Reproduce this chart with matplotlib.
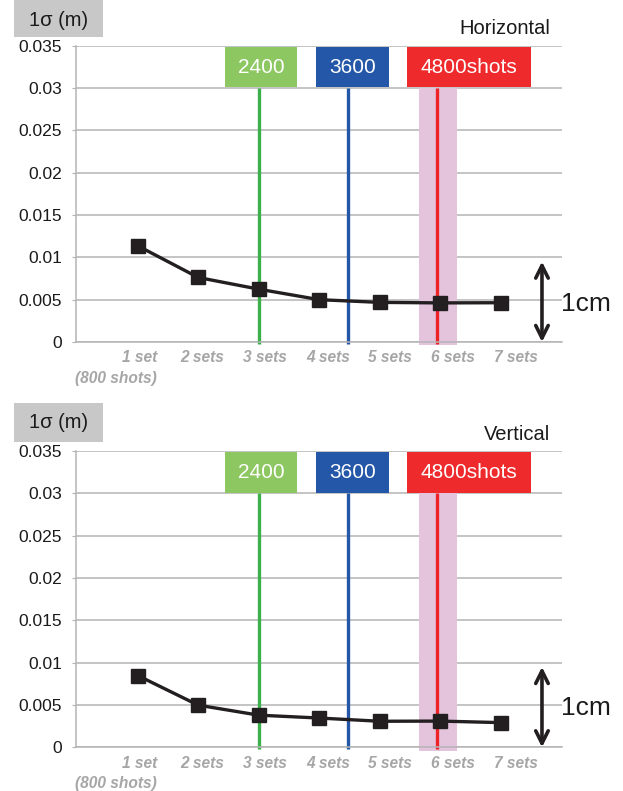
#!/usr/bin/env python
#
#  sigma vs number of sets, horizontal and vertical panels
#

import numpy as np
import matplotlib.pyplot as plt
from matplotlib.patches import Rectangle

plt.rcParams['font.family'] = ['Liberation Sans', 'DejaVu Sans']

#   data

sets       = ['1 set', '2 sets', '3 sets', '4 sets', '5 sets', '6 sets', '7 sets']
horizontal = [0.01136, 0.00762, 0.00624, 0.00500, 0.00468, 0.00462, 0.00464]
vertical   = [0.00848, 0.00498, 0.00380, 0.00346, 0.00308, 0.00310, 0.00292]

# shot markers: label, x position (in set units), box extent
markers = [('2400',      2.00, 1.44, 2.64, '#8cc761', '#3bb04b'),
           ('3600',      3.47, 2.94, 4.15, '#2457a7', '#2457a7'),
           ('4800shots', 4.95, 4.45, 6.50, '#ef2a2c', '#ee2328')]
band = (4.65, 5.28)

yticks = [0, 0.005, 0.01, 0.015, 0.02, 0.025, 0.03, 0.035]

grid_col  = '#b4b4b4'
tick_col  = '#a6a6a6'
line_col  = '#231f20'


def draw_panel(ax, values, title, onecm_y):
    x = np.arange(len(sets))
    ax.set_xlim(-1.02, 7.01)
    ax.set_ylim(0, 0.035)

    # grid + axes look
    ax.set_yticks(yticks)
    ax.set_yticklabels(['0'] + ['%g' % v for v in yticks[1:]])
    ax.yaxis.grid(True, color=grid_col, lw=1.1)
    ax.set_axisbelow(True)
    for s in ['top', 'right']:
        ax.spines[s].set_visible(False)
    ax.spines['left'].set_color(grid_col)
    ax.spines['bottom'].set_color(grid_col)
    ax.spines['left'].set_linewidth(1.1)
    ax.spines['bottom'].set_linewidth(1.1)
    ax.tick_params(axis='y', length=3, color=grid_col, pad=7, labelsize=12.5,
                   labelcolor='#1a1a1a')
    # category labels sit a little wider apart than the points in the original
    ax.set_xticks(0.033 + 1.0355 * x)
    ax.set_xticklabels(sets, fontsize=11.2, fontweight='bold', style='italic',
                       color=tick_col)
    ax.tick_params(axis='x', length=0, pad=6)
    ax.annotate('(800 shots)', xy=(0.31, 0), xycoords=('data', 'axes fraction'),
                xytext=(0, -26), textcoords='offset points', ha='right', va='center',
                fontsize=11.2, fontweight='bold', style='italic', color=tick_col,
                annotation_clip=False)

    # highlight band and shot lines
    ax.add_patch(Rectangle((band[0], -0.0004), band[1] - band[0], 0.0304,
                           facecolor='#e4c3dd', edgecolor='none', clip_on=False, zorder=1))
    for lab, xv, x0, x1, boxc, linec in markers:
        ax.plot([xv, xv], [-0.0002, 0.03], color=linec, lw=2.4, clip_on=False,
                solid_capstyle='butt', zorder=2)
        ax.add_patch(Rectangle((x0, 0.0301), x1 - x0, 0.00475, facecolor=boxc,
                               edgecolor='none', clip_on=False, zorder=3))
        ax.text((x0 + x1) / 2, 0.03245, lab, color='white', fontsize=15,
                ha='center', va='center', zorder=4)

    # the series
    ax.plot(x, values, '-s', color=line_col, lw=2.4, markersize=9.5, zorder=5,
            clip_on=False)

    # panel title
    ax.text(0.975, 1.057, title, transform=ax.transAxes, ha='right', va='center',
            fontsize=14.5, color='#1a1a1a')

    # 1cm arrow
    ax.annotate('', xy=(6.68, 0.0095), xytext=(6.68, 0.0),
                arrowprops=dict(arrowstyle='<->, head_length=0.9, head_width=0.45',
                                color=line_col, lw=2.6, shrinkA=0, shrinkB=0),
                annotation_clip=False)
    ax.text(7.0, onecm_y, '1cm', ha='left', va='center', fontsize=19,
            color='#1a1a1a', clip_on=False)


fig = plt.figure(figsize=(6.23, 7.91), dpi=100)

ax1 = fig.add_axes([0.122, 0.5676, 0.780, 0.3748])
ax2 = fig.add_axes([0.122, 0.0552, 0.780, 0.3746])

draw_panel(ax1, horizontal, 'Horizontal', 0.0045)
draw_panel(ax2, vertical, 'Vertical', 0.0047)

# the "1 sigma (m)" tags
for ytop, ybot, ytxt in [(0, 36.7, 21), (403, 441.7, 423)]:
    fig.patches.append(Rectangle((14 / 623, 1 - ybot / 791), 89 / 623, (ybot - ytop) / 791,
                                 transform=fig.transFigure, facecolor='#c8c8c8',
                                 edgecolor='none'))
    fig.text(58.5 / 623, 1 - ytxt / 791, '1σ (m)', ha='center',
             va='center', fontsize=14.5, color='#1a1a1a')

plt.savefig('out.png', dpi=100)
